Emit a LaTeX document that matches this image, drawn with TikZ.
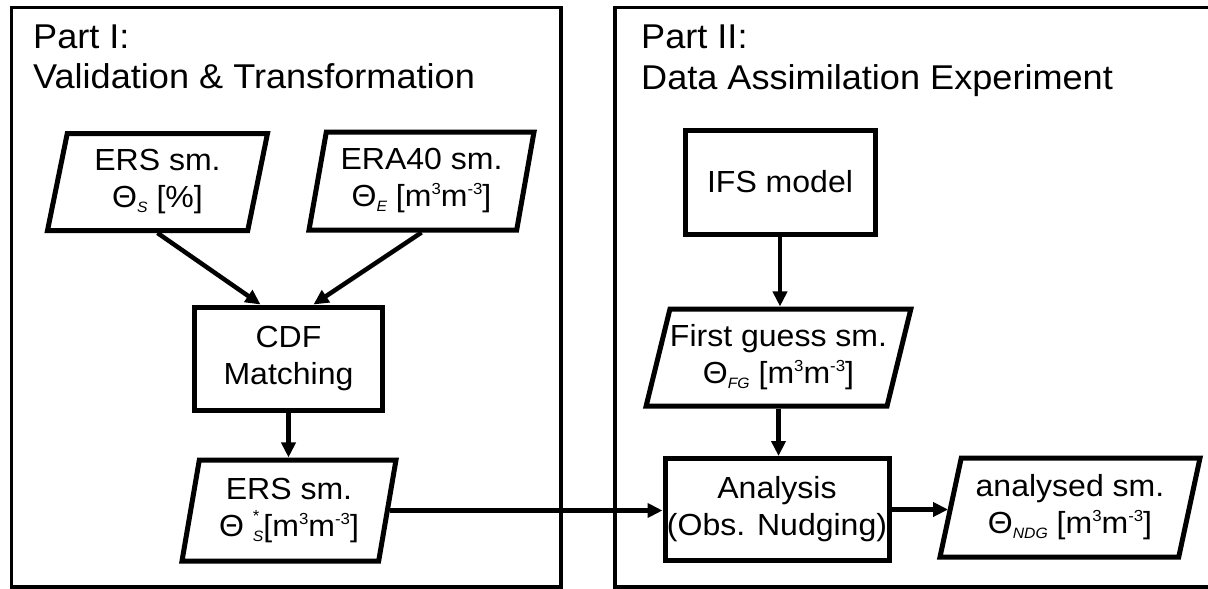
\documentclass[tikz,border=0pt]{standalone}
\usepackage{fontspec}
\setmainfont[FakeStretch=1.05]{Liberation Sans}
\usetikzlibrary{shapes.geometric,arrows.meta,calc}
\newcommand\nodefont{\fontsize{30.5}{37}\selectfont}
\newcommand\titlefont{\fontsize{34.4}{40}\selectfont}
\newcommand\sbs[1]{\raisebox{-5pt}{\fontsize{15}{15}\selectfont\itshape #1}}
\newcommand\sps[1]{\raisebox{12pt}{\fontsize{16}{16}\selectfont #1}}
\newcommand\unitmm{[m\sps{3}m\sps{-3}]}
\begin{document}
\begin{tikzpicture}[x=1pt,y=-1pt,
  frame/.style={line width=3.8pt},
  box/.style={draw,line width=5pt,rectangle,align=center,font=\nodefont,inner sep=0pt},
  pgram/.style={draw,line width=5pt,trapezium,trapezium stretches body,align=center,font=\nodefont,inner sep=0pt},
  title/.style={anchor=base west,font=\titlefont,inner sep=0pt},
  arr/.style={line width=4.5pt,-{Triangle[length=15pt,width=14pt]}},
  conn/.style={line width=4.5pt}]
\useasboundingbox (0,0) rectangle (1208,589);
\clip (0,0) rectangle (1208,589);
% frames
\draw[frame] (11.5,7.5) rectangle (561,587);
\draw[frame] (1230,7.5) -- (615,7.5) -- (615,587) -- (1230,587);
% titles
\node[title] (t1a) at (33,48) {Part I:};
\node[title] (t1b) at (33,88) {Validation \& Transformation};
\node[title] (t2a) at (641,48) {Part II:};
\node[title] (t2b) at (641,89) {Data Assimilation Experiment};
% nodes
\node[pgram,trapezium left angle=73,trapezium right angle=107,minimum width=220,minimum height=97] (ers) at (157.5,182) {ERS sm.\\ Θ\sbs{S} [\%]};
\node[pgram,trapezium left angle=75,trapezium right angle=105,minimum width=225,minimum height=98] (era) at (421.5,181) {ERA40 sm.\\ Θ\sbs{E} \unitmm};
\node[box,minimum width=188,minimum height=103] (cdf) at (288.5,358.5) {CDF\\Matching};
\node[pgram,trapezium left angle=75,trapezium right angle=105,minimum width=214,minimum height=101] (erss) at (289,510.5) {ERS sm.\\ Θ\hspace{9pt}\rlap{\raisebox{15pt}{\fontsize{16}{16}\selectfont *}}\sbs{S}\unitmm};
\node[box,minimum width=190,minimum height=104] (ifs) at (780,182) {IFS model};
\node[pgram,trapezium left angle=70,trapezium right angle=110,minimum width=260,minimum height=97] (fg) at (778.5,357.5) {First guess sm.\\ Θ\sbs{FG} \unitmm};
\node[box,minimum width=224,minimum height=102] (ana) at (777,509.5) {Analysis\\(Obs. Nudging)};
\node[pgram,trapezium left angle=72,trapezium right angle=108,minimum width=260,minimum height=99] (out) at (1070,507.5) {analysed sm.\\ Θ\sbs{NDG} \unitmm};
% connectors
\draw[arr] (ers.south) -- ($(cdf.north)+(-28,0)$);
\draw[arr] (era.south) -- ($(cdf.north)+(25,0)$);
\draw[arr] (cdf.south) -- (cdf.south |- erss.north);
\draw[arr] (erss.east) -- (erss.east -| ana.west);
\draw[arr] (ifs.south) -- (ifs.south |- fg.north);
\draw[arr] (fg.south) -- (fg.south |- ana.north);
\draw[arr] (ana.east) -- (ana.east -| out.west);
\end{tikzpicture}
\end{document}
